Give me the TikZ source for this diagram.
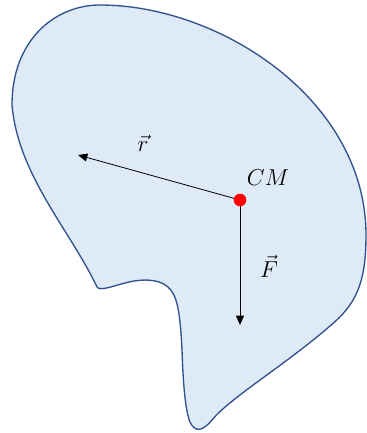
\documentclass[tikz,border=0pt]{standalone}
\usetikzlibrary{arrows.meta}
\definecolor{bodyfill}{RGB}{222,234,246}
\definecolor{bodyline}{RGB}{47,82,143}
\begin{document}
\begin{tikzpicture}[x=0.75pt, y=-0.75pt, >={Triangle[length=7pt, width=6pt]},
		vecline/.style={->, black, line width=0.6pt},
		lbl/.style={font=\fontsize{19}{22}\selectfont, inner sep=1pt}]
			\useasboundingbox (0,0) rectangle (367,433);
			% rigid body outline
			\filldraw[fill=bodyfill, draw=bodyline, line width=1pt] (97,287)
				.. controls (70,230) and (18,175) .. (12,105)
				.. controls (12,40) and (55,5) .. (100,5)
				.. controls (220,5) and (366,100) .. (366,235)
				.. controls (366,285) and (355,305) .. (330,326)
				.. controls (285,365) and (230,398) .. (212,420)
				.. controls (203,431) and (195,433) .. (190,422)
				.. controls (185,410) and (183,380) .. (182,350)
				.. controls (180,310) and (177,295) .. (168,287)
				.. controls (158,278) and (140,279) .. (125,283)
				.. controls (110,287) and (100,291) .. (97,287) -- cycle;
			\coordinate (cm) at (240,200);
			\coordinate (rtip) at (78,155);
			\coordinate (ftip) at (240,325);
			\draw[vecline] (cm) -- (rtip);
			\draw[vecline] (cm) -- (ftip);
			\fill[red] (cm) circle (6.3);
			\node[lbl] (rlabel) at (143,143) {$\vec{r}$};
			\node[lbl] (cmlabel) at (268,178) {$CM$};
			\node[lbl] (flabel) at (269,266) {$\vec{F}$};
		\end{tikzpicture}
\end{document}
